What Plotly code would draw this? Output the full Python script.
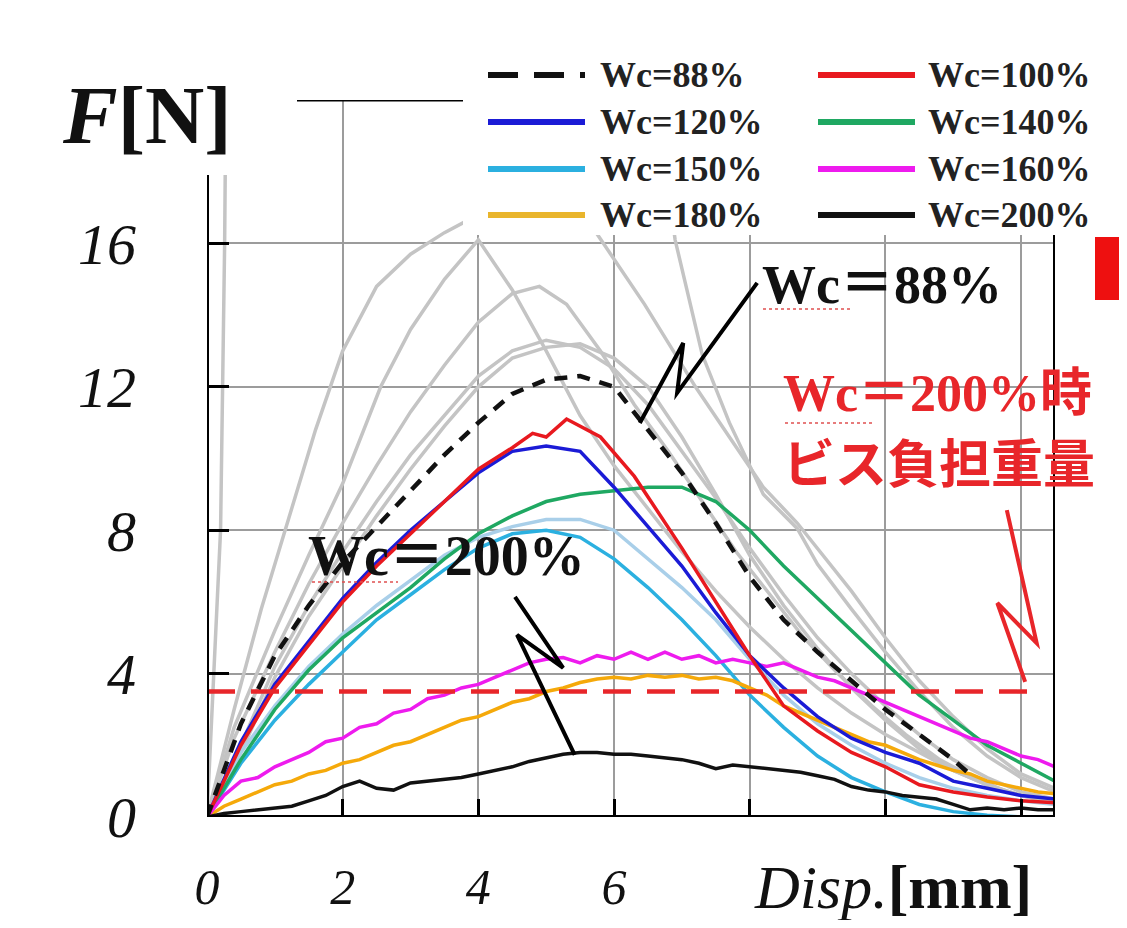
import plotly.graph_objects as go

# ---------------- data (x: displacement mm, y: load N) ----------------
x_std = [0, 0.5, 1, 1.5, 2, 2.5, 3, 3.5, 4, 4.5, 5, 5.5, 6, 6.5, 7, 7.5, 8, 8.5, 9, 9.5, 10, 10.5, 11, 11.5, 12, 12.5]

wc88_x = [0, 0.5, 1, 1.5, 2, 2.5, 3, 3.5, 4, 4.5, 5, 5.5, 6, 6.5, 7, 7.5, 8, 8.5, 9, 9.5, 10, 10.5, 11, 11.3]
wc88_y = [0, 2.6, 4.5, 5.9, 7.1, 8.1, 9.1, 10.1, 11.0, 11.8, 12.2, 12.3, 12.0, 10.8, 9.6, 8.2, 6.7, 5.5, 4.6, 3.8, 3.0, 2.3, 1.6, 1.1]

wc100_x = [0, 0.5, 1, 1.5, 2, 2.5, 3, 3.5, 4, 4.5, 4.8, 5.0, 5.3, 5.8, 6.3, 7, 7.5, 8, 8.5, 9, 9.5, 10, 10.5, 11, 11.5, 12, 12.5]
wc100_y = [0, 2.0, 3.6, 4.8, 6.0, 7.0, 7.9, 8.8, 9.7, 10.3, 10.7, 10.6, 11.1, 10.6, 9.5, 7.5, 6.0, 4.5, 3.1, 2.4, 1.8, 1.4, 0.9, 0.7, 0.56, 0.45, 0.4]

wc120_y = [0, 2.1, 3.7, 4.9, 6.1, 7.1, 8.0, 8.8, 9.6, 10.2, 10.35, 10.2, 9.2, 8.1, 7.0, 5.7, 4.5, 3.6, 2.8, 2.2, 1.8, 1.5, 1.0, 0.8, 0.6, 0.5]

wc140_y = [0, 1.6, 3.0, 4.1, 5.0, 5.7, 6.4, 7.2, 7.9, 8.4, 8.8, 9.0, 9.1, 9.2, 9.2, 8.8, 8.0, 7.0, 6.1, 5.2, 4.3, 3.4, 2.7, 2.0, 1.5, 1.0]

wc150_y = [0, 1.5, 2.7, 3.7, 4.6, 5.5, 6.2, 6.9, 7.5, 7.9, 8.0, 7.8, 7.2, 6.4, 5.5, 4.5, 3.4, 2.5, 1.7, 1.1, 0.7, 0.35, 0.15, 0.05, 0.0, 0.0]
wc150b_y = [0, 1.8, 3.1, 4.2, 5.1, 5.9, 6.6, 7.3, 7.8, 8.1, 8.3, 8.3, 8.0, 7.2, 6.4, 5.5, 4.4, 3.4, 2.6, 2.0, 1.5, 1.1, 0.8, 0.6, 0.45, 0.35]

x_fine = [0, 0.25, 0.5, 0.75, 1, 1.25, 1.5, 1.75, 2, 2.25, 2.5, 2.75, 3, 3.25, 3.5, 3.75, 4, 4.25, 4.5, 4.75, 5,
          5.25, 5.5, 5.75, 6, 6.25, 6.5, 6.75, 7, 7.25, 7.5, 7.75, 8, 8.25, 8.5, 8.75, 9, 9.25, 9.5, 9.75, 10,
          10.25, 10.5, 10.75, 11, 11.25, 11.5, 11.75, 12, 12.25, 12.5]
wc160_y = [0, 0.6, 1.0, 1.1, 1.4, 1.6, 1.8, 2.1, 2.2, 2.5, 2.6, 2.9, 3.0, 3.3, 3.4, 3.6, 3.7, 3.9, 4.1, 4.3, 4.4,
           4.45, 4.3, 4.5, 4.4, 4.6, 4.4, 4.6, 4.4, 4.5, 4.3, 4.4, 4.3, 4.2, 4.3, 4.1, 3.9, 3.8, 3.6, 3.4, 3.2,
           3.0, 2.8, 2.6, 2.4, 2.2, 2.1, 1.9, 1.7, 1.6, 1.4]
wc180_y = [0, 0.3, 0.5, 0.7, 0.9, 1.0, 1.2, 1.3, 1.5, 1.6, 1.8, 2.0, 2.1, 2.3, 2.5, 2.7, 2.8, 3.0, 3.2, 3.3, 3.5,
           3.6, 3.75, 3.85, 3.9, 3.85, 3.95, 3.9, 3.95, 3.85, 3.9, 3.8, 3.6, 3.4, 3.1, 2.9, 2.7, 2.5, 2.3, 2.1, 2.0,
           1.8, 1.6, 1.45, 1.3, 1.2, 1.0, 0.9, 0.8, 0.7, 0.65]
wc200_y = [0, 0.1, 0.15, 0.2, 0.25, 0.3, 0.45, 0.6, 0.85, 1.0, 0.8, 0.75, 0.95, 1.0, 1.05, 1.1, 1.2, 1.3, 1.4, 1.55, 1.65,
           1.75, 1.8, 1.8, 1.75, 1.75, 1.7, 1.65, 1.6, 1.5, 1.35, 1.45, 1.4, 1.35, 1.3, 1.25, 1.15, 1.05, 0.85, 0.75, 0.7,
           0.6, 0.55, 0.5, 0.35, 0.2, 0.25, 0.2, 0.25, 0.2, 0.2]

# grey reference curves (other specimens)
g0_x = [0, 0.05, 0.12, 0.2, 0.23, 0.26, 0.28, 6.6, 6.9, 7.3, 7.7, 8.2, 8.7, 9.0, 9.5, 10, 10.5, 11, 11.5, 12, 12.5]
g0_y = [0, 2, 5, 8, 12, 16, 20.5, 20.5, 16.1, 12.9, 11.0, 9.0, 8.05, 7.05, 5.8, 4.6, 3.5, 2.5, 1.7, 1.1, 0.7]
g1_x = [0, 0.4, 0.8, 1.2, 1.6, 2.0, 2.5, 3.0, 3.5, 3.8, 4.3, 5.0, 5.7, 6.45, 7.2, 7.7, 8.2, 8.7, 9.5, 10, 10.5, 11, 11.5, 12, 12.5]
g1_y = [0, 3, 5.8, 8.3, 10.8, 13.0, 14.8, 15.7, 16.3, 16.6, 17.0, 16.9, 16.4, 14.3, 12.0, 10.6, 9.2, 8.2, 6.3, 5.0, 3.8, 2.8, 1.9, 1.2, 0.8]
g2_x = [0, 0.4, 1, 1.5, 2, 2.56, 3, 3.5, 4, 4.5, 5, 5.5, 6, 6.5, 7, 7.5, 8, 8.5, 9, 9.5, 10, 10.5, 11, 11.5, 12, 12.5]
g2_y = [0, 2.5, 5.2, 7.3, 9.3, 12.0, 13.6, 15.0, 16.1, 14.7, 13.0, 11.2, 9.8, 8.6, 7.4, 6.3, 5.3, 4.4, 3.6, 2.9, 2.3, 1.8, 1.3, 0.9, 0.6, 0.4]
g3_x = [0, 0.4, 1, 1.5, 2, 2.5, 3, 3.5, 4, 4.5, 4.9, 5.3, 5.8, 6.3, 6.8, 7.3, 7.8, 8.3, 8.8, 9.3, 9.8, 10.3, 10.8, 11.3, 11.8, 12.5]
g3_y = [0, 2.2, 4.6, 6.5, 8.2, 9.8, 11.3, 12.6, 13.8, 14.6, 14.8, 14.3, 13.0, 11.5, 10.2, 8.8, 7.4, 6.2, 5.0, 4.0, 3.1, 2.3, 1.6, 1.1, 0.7, 0.4]
g4_y = [0, 2.0, 4.2, 5.9, 7.4, 8.8, 10.1, 11.2, 12.3, 13.0, 13.3, 13.1, 12.5, 11.5, 10.2, 8.9, 7.5, 6.2, 5.0, 4.0, 3.1, 2.3, 1.6, 1.1, 0.7, 0.5]
g5_y = [0, 1.8, 3.9, 5.6, 7.0, 8.4, 9.7, 10.9, 12.0, 12.8, 13.1, 13.2, 12.8, 12.0, 10.6, 9.0, 7.3, 5.9, 4.7, 3.6, 2.7, 1.9, 1.3, 0.9, 0.6, 0.4]

screw_load = 3.5          # load carried by screw at Wc=200%
screw_x = [0, 12.23]

legend_names = ["Wc=88%", "Wc=100%", "Wc=120%", "Wc=140%", "Wc=150%", "Wc=160%", "Wc=180%", "Wc=200%"]
legend_colors = ["#111111", "#e8191f", "#1b1bd6", "#1fa862", "#2bb0e0", "#ee1bee", "#e9b52c", "#111111"]
legend_dash = ["dash", "solid", "solid", "solid", "solid", "solid", "solid", "solid"]

x_ticks = [0, 2, 4, 6, 8, 10, 12]
x_ticktext = ["0", "2", "4", "6", "", "", ""]
y_ticks = [0, 4, 8, 12, 16]
y_ticktext = ["0", "4", "8", "12", "16"]

# ---------------- figure ----------------
OFF = 8                      # page body margin
W, H = 1127 - 2 * OFF, 928 - 2 * OFF
L, T = 207 - OFF, 100 - OFF
R = W - (1055 - OFF)
B = H - (817 - OFF)
PW, PH = W - L - R, H - T - B


def px(xp):
    return (xp - OFF - L) / PW


def py(yp):
    return (H - B - (yp - OFF)) / PH


fig = go.Figure()
GREY = "#c4c4c4"
for gx, gy in [(g0_x, g0_y), (g1_x, g1_y), (g2_x, g2_y), (g3_x, g3_y), (x_std, g4_y), (x_std, g5_y)]:
    fig.add_trace(go.Scatter(x=gx, y=gy, mode="lines", line=dict(color=GREY, width=3.5), showlegend=False, hoverinfo="skip"))


def add(x, y, color, width=3.5, dash="solid"):
    fig.add_trace(go.Scatter(x=x, y=y, mode="lines", line=dict(color=color, width=width, dash=dash),
                             showlegend=False))


add(x_std, wc150b_y, "#a9cfe9")
add(x_std, wc150_y, legend_colors[4])
add(x_fine, wc180_y, "#f5a90a")
add(x_std, wc140_y, legend_colors[3])
add(x_fine, wc160_y, legend_colors[5])
add(x_fine, wc200_y, legend_colors[7])
add(x_std, wc120_y, legend_colors[2])
add(wc100_x, wc100_y, legend_colors[1])
fig.add_trace(go.Scatter(x=screw_x, y=[screw_load, screw_load], mode="lines",
                         line=dict(color="#e8262a", width=4.5, dash="28px,16px"), showlegend=False))
add(wc88_x, wc88_y, "#111111", width=4.5, dash="13px,10px")

shapes = []
# frame
shapes.append(dict(type="line", xref="x", yref="y", x0=0, x1=12.5, y0=0, y1=0, line=dict(color="black", width=4)))
shapes.append(dict(type="line", xref="x", yref="y", x0=0, x1=0, y0=0, y1=20, line=dict(color="black", width=4)))
shapes.append(dict(type="line", xref="x", yref="y", x0=12.5, x1=12.5, y0=0, y1=20, line=dict(color="black", width=4)))
shapes.append(dict(type="line", xref="x", yref="y", x0=0, x1=12.5, y0=20, y1=20, line=dict(color="black", width=3)))
# white boxes (label area and legend area)
shapes.append(dict(type="rect", xref="paper", yref="paper", x0=px(-5), x1=px(297), y0=py(175), y1=py(-5),
                   fillcolor="white", line=dict(width=0), layer="above"))
shapes.append(dict(type="rect", xref="paper", yref="paper", x0=px(463), x1=px(1112), y0=py(235), y1=py(-5),
                   fillcolor="white", line=dict(width=0), layer="above"))
# legend samples
rows_y = [75, 122, 169, 215]
for i, (name, col, dsh) in enumerate(zip(legend_names, legend_colors, legend_dash)):
    r, c = i // 2, i % 2
    x0, x1 = (488, 585) if c == 0 else (818, 915)
    shapes.append(dict(type="line", xref="paper", yref="paper", x0=px(x0), x1=px(x1), y0=py(rows_y[r]), y1=py(rows_y[r]),
                       line=dict(color=col, width=6, dash="30px,16px" if dsh == "dash" else "solid"), layer="above"))
    fig.add_annotation(xref="paper", yref="paper", x=px(598 if c == 0 else 926), y=py(rows_y[r]), text="<b>%s</b>" % name,
                       showarrow=False, xanchor="left", yanchor="middle",
                       font=dict(family="Liberation Serif", size=36, color="#222222"))

# leader lines (data coords)
lead88 = [(6.38, 10.99), (7.02, 13.22), (6.93, 11.83), (8.11, 14.9)]
lead200 = [(4.54, 6.14), (5.25, 4.16), (4.57, 5.08), (5.42, 1.73)]
leadred = [(11.79, 8.56), (12.23, 4.85), (11.65, 5.97), (12.06, 3.77)]


def path(pts):
    return "M " + " L ".join("%g,%g" % p for p in pts)


shapes.append(dict(type="path", xref="x", yref="y", path=path(lead88), line=dict(color="black", width=4), layer="above"))
shapes.append(dict(type="path", xref="x", yref="y", path=path(lead200), line=dict(color="black", width=4), layer="above"))
shapes.append(dict(type="path", xref="x", yref="y", path=path(leadred), line=dict(color="#e8262a", width=4), layer="above"))
# red marker block at right edge
shapes.append(dict(type="rect", xref="paper", yref="paper", x0=px(1095), x1=px(1135), y0=py(300), y1=py(237),
                   fillcolor="#ee1010", line=dict(width=0), layer="above"))
# spell-check squiggles
for (a, b, yy) in [(763, 850, 309), (312, 398, 582), (785, 872, 423)]:
    shapes.append(dict(type="line", xref="paper", yref="paper", x0=px(a), x1=px(b), y0=py(yy), y1=py(yy),
                       line=dict(color="#e05050", width=1.5, dash="dot"), layer="above"))

fig.update_layout(shapes=shapes)

SERIF = "Liberation Serif, Noto Sans CJK JP"
fig.add_annotation(xref="paper", yref="paper", x=px(60), y=py(115), text="<b><i>F</i>[N]</b>", showarrow=False,
                   xanchor="left", yanchor="middle", font=dict(family="Liberation Serif", size=82, color="#111111"))
fig.add_annotation(xref="paper", yref="paper", x=px(752), y=py(887), text="<i>Disp.</i><b>[mm]</b>", showarrow=False,
                   xanchor="left", yanchor="middle",
                   font=dict(family="Liberation Serif", size=62, color="#111111"))
fig.add_annotation(xref="paper", yref="paper", x=px(760), y=py(285), text="<b>Wc＝88%</b>", showarrow=False,
                   xanchor="left", yanchor="middle", font=dict(family=SERIF, size=54, color="#111111"))
fig.add_annotation(xref="paper", yref="paper", x=px(306), y=py(556), text="<b>Wc＝200%</b>", showarrow=False,
                   xanchor="left", yanchor="middle", font=dict(family=SERIF, size=56, color="#111111"))
fig.add_annotation(xref="paper", yref="paper", x=px(781), y=py(394), text="<b>Wc＝200%時</b>", showarrow=False,
                   xanchor="left", yanchor="middle", font=dict(family=SERIF, size=52, color="#e8262a"))
fig.add_annotation(xref="paper", yref="paper", x=px(781), y=py(460), text="<b>ビス負担重量</b>", showarrow=False,
                   xanchor="left", yanchor="middle", font=dict(family="Noto Sans CJK JP", size=52, color="#e8262a"))

fig.update_layout(
    width=W, height=H, margin=dict(l=L, r=R, t=T, b=B, autoexpand=False),
    paper_bgcolor="white", plot_bgcolor="white", showlegend=False,
    xaxis=dict(range=[0, 12.5], tickvals=x_ticks, ticktext=x_ticktext, showgrid=True, gridcolor="#9c9c9c", gridwidth=2,
               zeroline=False, showline=False, ticks="inside", ticklen=18, tickwidth=3, tickcolor="black",
               ticklabelstandoff=36,
               tickfont=dict(family="Liberation Serif", size=50, style="italic", color="#111111")),
    yaxis=dict(range=[0, 20], tickvals=y_ticks, ticktext=y_ticktext, showgrid=True, gridcolor="#9c9c9c", gridwidth=2,
               zeroline=False, showline=False, ticks="inside", ticklen=22, tickwidth=3, tickcolor="black",
               ticklabelstandoff=70,
               tickfont=dict(family="Liberation Serif", size=58, style="italic", color="#111111")),
)

fig.write_html("out.html")
